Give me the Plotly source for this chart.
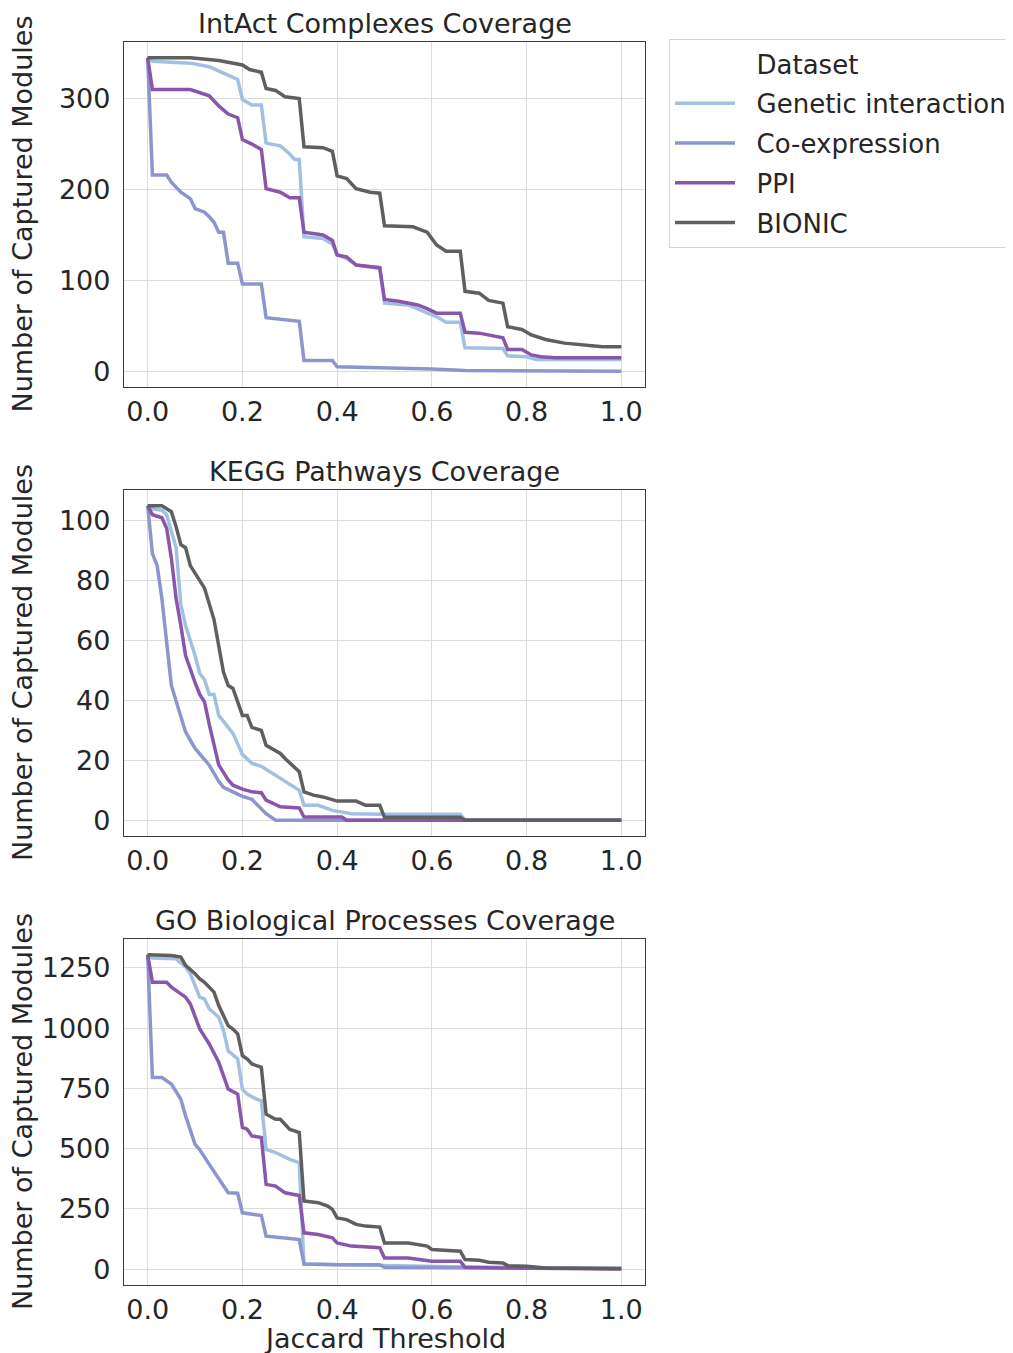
import plotly.graph_objects as go

# ---------------- data (breakpoints) ----------------
datasets = ["Genetic interaction", "Co-expression", "PPI", "BIONIC"]
panel_titles = ["IntAct Complexes Coverage", "KEGG Pathways Coverage", "GO Biological Processes Coverage"]
x_tick_vals = [0.0, 0.2, 0.4, 0.6, 0.8, 1.0]
y_tick_vals = [[0, 100, 200, 300], [0, 20, 40, 60, 80, 100], [0, 250, 500, 750, 1000, 1250]]
y_ranges = [[-17.25, 362.25], [-5.25, 110.25], [-65.2, 1369.2]]

# IntAct complexes
intact_gi_x = [0, 0.01, 0.09, 0.13, 0.16, 0.19, 0.20, 0.22, 0.24, 0.25, 0.28, 0.30, 0.31, 0.32, 0.33, 0.37, 0.39, 0.40, 0.42, 0.44, 0.49, 0.50, 0.55, 0.58, 0.61, 0.63, 0.66, 0.67, 0.75, 0.76, 0.80, 0.82, 1.0]
intact_gi_y = [345, 341, 339, 335, 328, 321, 299, 293, 293, 251, 248, 239, 233, 233, 148, 146, 140, 128, 124, 117, 113, 75, 73, 67, 60, 54, 54, 26, 25, 17, 16, 13, 13]
intact_coex_x = [0, 0.01, 0.04, 0.05, 0.07, 0.09, 0.10, 0.12, 0.13, 0.14, 0.15, 0.16, 0.17, 0.19, 0.20, 0.24, 0.25, 0.28, 0.32, 0.33, 0.39, 0.40, 0.50, 0.60, 0.67, 1.0]
intact_coex_y = [345, 216, 216, 208, 197, 190, 179, 175, 170, 164, 153, 153, 119, 119, 96, 96, 59, 57, 55, 12, 12, 5, 4, 2.5, 1, 0]
intact_ppi_x = [0, 0.01, 0.09, 0.11, 0.13, 0.15, 0.17, 0.19, 0.20, 0.22, 0.24, 0.25, 0.28, 0.30, 0.32, 0.33, 0.37, 0.39, 0.40, 0.42, 0.44, 0.49, 0.50, 0.53, 0.57, 0.59, 0.61, 0.66, 0.67, 0.70, 0.74, 0.75, 0.76, 0.79, 0.81, 0.83, 0.86, 1.0]
intact_ppi_y = [345, 310, 310, 306, 303, 292, 283, 279, 255, 250, 244, 201, 197, 191, 191, 153, 150, 144, 128, 126, 117, 114, 79, 77, 73, 69, 64, 64, 43, 42, 38, 37, 24, 24, 18, 16, 15, 15]
intact_bionic_x = [0, 0.09, 0.15, 0.18, 0.20, 0.215, 0.24, 0.25, 0.27, 0.29, 0.32, 0.33, 0.37, 0.39, 0.40, 0.42, 0.44, 0.47, 0.49, 0.50, 0.56, 0.59, 0.61, 0.63, 0.66, 0.67, 0.70, 0.72, 0.75, 0.76, 0.79, 0.81, 0.84, 0.88, 0.92, 0.96, 1.0]
intact_bionic_y = [345, 345, 342, 339, 337, 332, 329, 311, 309, 302, 300, 247, 246, 242, 215, 212, 201, 197, 196, 160, 159, 153, 139, 132, 132, 88, 86, 78, 75, 49, 46, 40, 35, 31, 29, 27, 27]

# KEGG pathways
kegg_gi_x = [0, 0.01, 0.03, 0.04, 0.06, 0.07, 0.08, 0.10, 0.11, 0.12, 0.13, 0.14, 0.15, 0.18, 0.20, 0.22, 0.24, 0.27, 0.28, 0.32, 0.33, 0.36, 0.39, 0.43, 0.50, 0.66, 0.67, 1.0]
kegg_gi_y = [105, 104, 103.5, 102, 91, 72, 65, 55, 49, 47, 42, 42, 35, 29, 22, 19, 18, 15, 14, 10, 5, 5, 3.3, 2.2, 2, 2, 0, 0]
kegg_coex_x = [0, 0.01, 0.02, 0.03, 0.05, 0.08, 0.10, 0.13, 0.15, 0.16, 0.18, 0.20, 0.22, 0.25, 0.27, 1.0]
kegg_coex_y = [105, 89, 85, 74, 45, 29.5, 24, 18.4, 13, 11, 9.5, 8, 7, 2.2, 0, 0]
kegg_ppi_x = [0, 0.01, 0.03, 0.04, 0.05, 0.06, 0.07, 0.08, 0.10, 0.11, 0.12, 0.13, 0.15, 0.17, 0.18, 0.20, 0.22, 0.24, 0.25, 0.28, 0.32, 0.33, 0.41, 0.42, 1.0]
kegg_ppi_y = [105, 102, 101, 97.5, 87.5, 74, 65, 55, 46, 42, 39.5, 32, 18.5, 13.5, 11.7, 10.4, 9.5, 9.2, 6.7, 4.5, 4.1, 1.1, 1.1, 0, 0]
kegg_bionic_x = [0, 0.03, 0.05, 0.06, 0.07, 0.08, 0.09, 0.12, 0.14, 0.16, 0.17, 0.18, 0.20, 0.21, 0.22, 0.24, 0.25, 0.28, 0.29, 0.32, 0.33, 0.35, 0.37, 0.40, 0.44, 0.46, 0.49, 0.50, 0.66, 0.67, 1.0]
kegg_bionic_y = [105, 105, 103, 98, 92, 91, 85, 77.5, 67, 49.5, 45, 44, 35, 35, 31, 30, 25, 22.3, 20.6, 16.2, 9.5, 8.4, 7.8, 6.4, 6.4, 5, 5, 1, 1, 0, 0]

# GO biological processes
go_gi_x = [0, 0.01, 0.06, 0.08, 0.09, 0.10, 0.11, 0.12, 0.13, 0.15, 0.16, 0.17, 0.19, 0.20, 0.21, 0.23, 0.24, 0.25, 0.27, 0.30, 0.32, 0.33, 0.50, 0.67, 1.0]
go_gi_y = [1304, 1290, 1287, 1253, 1225, 1177, 1128, 1121, 1080, 1045, 990, 906, 872, 747, 726, 705, 698, 497, 484, 456, 442, 22, 16, 9, 3]
go_coex_x = [0, 0.01, 0.03, 0.05, 0.07, 0.08, 0.10, 0.11, 0.13, 0.15, 0.17, 0.19, 0.20, 0.24, 0.25, 0.29, 0.32, 0.33, 0.40, 0.49, 0.50, 1.0]
go_coex_y = [1304, 795, 795, 768, 705, 636, 518, 495, 435, 373, 317, 315, 234, 223, 137, 130, 123, 22, 19, 19, 8, 3]
go_ppi_x = [0, 0.01, 0.04, 0.05, 0.08, 0.09, 0.11, 0.13, 0.15, 0.17, 0.19, 0.20, 0.21, 0.22, 0.24, 0.25, 0.27, 0.29, 0.32, 0.33, 0.36, 0.39, 0.40, 0.43, 0.49, 0.50, 0.55, 0.60, 0.66, 0.67, 0.75, 1.0]
go_ppi_y = [1304, 1190, 1190, 1170, 1128, 1100, 996, 934, 858, 747, 726, 588, 581, 553, 546, 352, 345, 317, 306, 151, 144, 130, 109, 96, 89, 47, 47, 33, 33, 8, 5.5, 1]
go_bionic_x = [0, 0.05, 0.07, 0.08, 0.10, 0.11, 0.12, 0.14, 0.15, 0.17, 0.18, 0.19, 0.20, 0.21, 0.22, 0.24, 0.25, 0.27, 0.28, 0.30, 0.31, 0.32, 0.33, 0.36, 0.38, 0.39, 0.40, 0.42, 0.44, 0.46, 0.49, 0.50, 0.55, 0.57, 0.59, 0.60, 0.66, 0.67, 0.70, 0.72, 0.75, 0.76, 0.80, 0.84, 1.0]
go_bionic_y = [1304, 1301, 1294, 1260, 1225, 1204, 1190, 1149, 1093, 1010, 996, 976, 885, 872, 851, 837, 643, 622, 622, 580, 574, 567, 283, 276, 262, 248, 213, 206, 186, 179, 175, 109, 109, 102, 96, 82, 75, 40, 37, 29, 26, 15, 12.5, 5.5, 3]

series_x = [
    [intact_gi_x, intact_coex_x, intact_ppi_x, intact_bionic_x],
    [kegg_gi_x, kegg_coex_x, kegg_ppi_x, kegg_bionic_x],
    [go_gi_x, go_coex_x, go_ppi_x, go_bionic_x],
]
series_y = [
    [intact_gi_y, intact_coex_y, intact_ppi_y, intact_bionic_y],
    [kegg_gi_y, kegg_coex_y, kegg_ppi_y, kegg_bionic_y],
    [go_gi_y, go_coex_y, go_ppi_y, go_bionic_y],
]

# ---------------- styling ----------------
colors = ["#a2c0e2", "#8c96cc", "#8856aa", "#5f5f5f"]
FONT = "DejaVu Sans"
TXT = "#262626"
FS = 27
LFS = 26
PAD = "\u00a0\u00a0"   # small gap between legend line and label

# page body adds an 8px margin, so figure coords = screen coords - 8
W, H = 1013, 1345
ML, MT, MB = 116, 34, 68
PW = 521
MR = W - ML - PW
ph = H - MT - MB
panel_px = [(34, 379), (482, 828), (931, 1277)]
domains = [[(H - MB - b) / ph, (H - MB - t) / ph] for t, b in panel_px]

fig = go.Figure()

# legend header entry
fig.add_trace(go.Scatter(x=[None], y=[None], mode="lines", name=PAD + "Dataset",
                         line=dict(color="rgba(0,0,0,0)", width=3.5),
                         legendgroup="hdr", showlegend=True, hoverinfo="skip"))

for p in range(3):
    ax = "" if p == 0 else str(p + 1)
    for i, name in enumerate(datasets):
        fig.add_trace(go.Scatter(
            x=series_x[p][i], y=series_y[p][i], mode="lines", name=PAD + name,
            line=dict(color=colors[i], width=3.5),
            xaxis="x" + ax, yaxis="y" + ax,
            legendgroup=name, showlegend=(p == 0),
        ))

layout = dict(
    width=W, height=H,
    margin=dict(l=ML, r=MR, t=MT, b=MB, autoexpand=False),
    paper_bgcolor="white", plot_bgcolor="white",
    font=dict(family=FONT, size=FS, color=TXT),
    showlegend=True,
    legend=dict(x=(669 - 124) / PW, y=1.0 + 3 / ph, xanchor="left", yanchor="top",
                bordercolor="#d3d3d3", borderwidth=1, bgcolor="white",
                font=dict(family=FONT, size=LFS, color=TXT),
                traceorder="grouped", tracegroupgap=3, itemwidth=60),
)

annotations = []
for p in range(3):
    ax = "" if p == 0 else str(p + 1)
    layout["xaxis" + ax] = dict(
        domain=[0, 1], anchor="y" + ax, range=[-0.05, 1.05],
        tickvals=x_tick_vals, ticktext=[f"{v:.1f}" for v in x_tick_vals],
        showgrid=True, gridcolor="#dcdcdc", gridwidth=1.3, zeroline=False,
        showline=True, mirror=True, linecolor="#3c3c3c", linewidth=1.3,
        ticks="", tickfont=dict(family=FONT, size=FS, color=TXT),
    )
    layout["yaxis" + ax] = dict(
        domain=domains[p], anchor="x" + ax, range=y_ranges[p],
        tickvals=y_tick_vals[p],
        showgrid=True, gridcolor="#dcdcdc", gridwidth=1.3, zeroline=False,
        showline=True, mirror=True, linecolor="#3c3c3c", linewidth=1.3,
        ticks="outside", ticklen=7, tickcolor="rgba(0,0,0,0)",
        tickfont=dict(family=FONT, size=FS, color=TXT),
    )
    annotations.append(dict(
        text=panel_titles[p], x=0.5, y=domains[p][1], xref="paper", yref="paper",
        xanchor="center", yanchor="bottom", yshift=1, showarrow=False,
        font=dict(family=FONT, size=FS, color=TXT)))
    annotations.append(dict(
        text="Number of Captured Modules", x=-(124 - 22) / PW, y=sum(domains[p]) / 2,
        xref="paper", yref="paper", xanchor="center", yanchor="middle",
        textangle=-90, showarrow=False, font=dict(family=FONT, size=FS, color=TXT)))

annotations.append(dict(
    text="Jaccard Threshold", x=0.5, y=0, xref="paper", yref="paper",
    xanchor="center", yanchor="middle", yshift=-(1338 - 1285), showarrow=False,
    font=dict(family=FONT, size=FS, color=TXT)))

layout["annotations"] = annotations
fig.update_layout(**layout)

fig.write_html("out.html")
